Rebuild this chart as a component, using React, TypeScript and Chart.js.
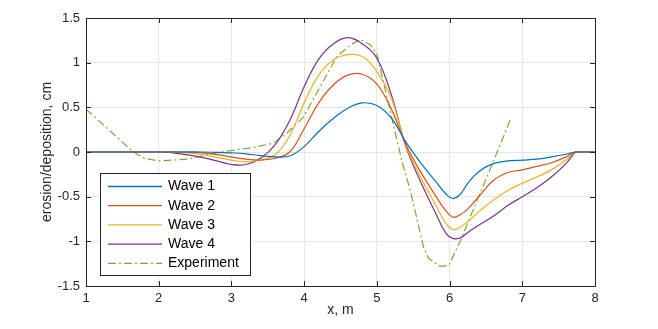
import { useEffect, useRef } from "react";
import { Chart, registerables } from "chart.js";

Chart.register(...registerables);

// ---- data ----
const waveX = [1, 1.5, 2, 2.3, 2.6, 2.8, 3.0, 3.2, 3.4, 3.6, 3.8, 4.0, 4.2, 4.4, 4.6, 4.8, 5.0, 5.2, 5.4, 5.6, 5.8, 5.95, 6.05, 6.15, 6.25, 6.4, 6.6, 6.8, 7.0, 7.2, 7.4, 7.6, 7.73, 7.75, 8];
const wave1 = [0, 0, 0, 0, 0, -0.005, -0.01, -0.02, -0.04, -0.055, -0.045, 0.06, 0.23, 0.375, 0.49, 0.55, 0.52, 0.38, 0.11, -0.12, -0.32, -0.47, -0.52, -0.47, -0.35, -0.22, -0.13, -0.10, -0.09, -0.08, -0.055, -0.025, 0, 0, 0];
const wave2 = [0, 0, 0, 0, -0.01, -0.03, -0.055, -0.08, -0.09, -0.07, 0.0, 0.26, 0.55, 0.75, 0.86, 0.87, 0.76, 0.48, 0.08, -0.22, -0.48, -0.66, -0.73, -0.70, -0.64, -0.50, -0.32, -0.23, -0.20, -0.16, -0.12, -0.055, 0, 0, 0];
const wave3 = [0, 0, 0, -0.005, -0.03, -0.06, -0.09, -0.11, -0.09, -0.03, 0.18, 0.55, 0.86, 1.03, 1.09, 1.07, 0.90, 0.60, 0.07, -0.28, -0.58, -0.80, -0.87, -0.84, -0.78, -0.67, -0.54, -0.43, -0.35, -0.28, -0.20, -0.09, 0, 0, 0];
const wave4 = [0, 0, 0, -0.02, -0.06, -0.10, -0.14, -0.14, -0.07, 0.08, 0.35, 0.73, 1.04, 1.21, 1.28, 1.21, 1.05, 0.64, 0.06, -0.33, -0.67, -0.91, -0.97, -0.96, -0.90, -0.82, -0.72, -0.60, -0.50, -0.40, -0.28, -0.13, 0, 0, 0];
const expX = [1.0, 1.65, 1.8, 2.0, 2.4, 2.85, 3.3, 3.58, 3.76, 3.99, 4.22, 4.45, 4.64, 4.77, 4.91, 5.0, 5.34, 5.46, 5.64, 5.71, 5.87, 5.99, 6.15, 6.61, 6.85];
const expY = [0.48, 0.0, -0.07, -0.10, -0.08, 0.0, 0.05, 0.10, 0.21, 0.39, 0.73, 1.07, 1.20, 1.26, 1.20, 1.10, -0.09, -0.43, -1.06, -1.19, -1.28, -1.27, -0.99, -0.09, 0.39];
const seriesNames = ["Wave 1", "Wave 2", "Wave 3", "Wave 4", "Experiment"];
const seriesColors = ["#0072BD", "#D95319", "#EDB120", "#7E2F8E", "#77AC30"];
const xLabel = "x, m";
const yLabel = "erosion/deposition, cm";

const FONT = '"Liberation Sans", Arial, Helvetica, sans-serif';
const INK = "#262626";
const EXP_DASH = [8, 3, 2, 3];

const framePlugin = {
  id: "matlabFrame",
  afterDatasetsDraw(chart: any) {
    const { ctx, chartArea: a, scales } = chart;
    ctx.save();
    ctx.strokeStyle = INK;
    ctx.lineWidth = 1;
    const tl = 5;
    ctx.beginPath();
    scales.x.ticks.forEach((t: any) => {
      const px = Math.round(scales.x.getPixelForValue(t.value)) + 0.5;
      ctx.moveTo(px, a.bottom);
      ctx.lineTo(px, a.bottom - tl);
      ctx.moveTo(px, a.top);
      ctx.lineTo(px, a.top + tl);
    });
    scales.y.ticks.forEach((t: any) => {
      const py = Math.round(scales.y.getPixelForValue(t.value)) + 0.5;
      ctx.moveTo(a.left, py);
      ctx.lineTo(a.left + tl, py);
      ctx.moveTo(a.right, py);
      ctx.lineTo(a.right - tl, py);
    });
    ctx.stroke();
    ctx.strokeRect(
      Math.round(a.left) + 0.5,
      Math.round(a.top) + 0.5,
      Math.round(a.right - a.left),
      Math.round(a.bottom - a.top)
    );

    // legend box
    const lx = Math.round(a.left) + 14;
    const ly = Math.round(a.bottom) - 113;
    const lw = 150;
    const lh = 102;
    ctx.fillStyle = "#ffffff";
    ctx.fillRect(lx, ly, lw, lh);
    ctx.strokeStyle = INK;
    ctx.lineWidth = 1;
    ctx.strokeRect(lx + 0.5, ly + 0.5, lw, lh);
    ctx.font = `14px ${FONT}`;
    ctx.textBaseline = "middle";
    ctx.textAlign = "left";
    chart.data.datasets.forEach((ds: any, i: number) => {
      const yy = ly + 13.5 + i * 19.2;
      ctx.beginPath();
      ctx.strokeStyle = ds.borderColor;
      ctx.lineWidth = 1.3;
      ctx.setLineDash(ds.borderDash || []);
      ctx.moveTo(lx + 8, yy);
      ctx.lineTo(lx + 62, yy);
      ctx.stroke();
      ctx.setLineDash([]);
      ctx.fillStyle = "#000000";
      ctx.fillText(ds.label, lx + 68, yy);
    });
    ctx.restore();
  },
};

export default function App() {
  const ref = useRef<HTMLCanvasElement | null>(null);
  useEffect(() => {
    if (!ref.current) return;
    const waves = [wave1, wave2, wave3, wave4];
    const datasets: any[] = waves.map((w, i) => ({
      label: seriesNames[i],
      data: waveX.map((x, j) => ({ x, y: w[j] })),
      borderColor: seriesColors[i],
      backgroundColor: seriesColors[i],
      borderWidth: 1.2,
      pointRadius: 0,
      tension: 0.4,
      fill: false,
    }));
    datasets.push({
      label: seriesNames[4],
      data: expX.map((x, j) => ({ x, y: expY[j] })),
      borderColor: seriesColors[4],
      backgroundColor: seriesColors[4],
      borderWidth: 1.2,
      borderDash: EXP_DASH,
      pointRadius: 0,
      tension: 0,
      fill: false,
    });
    const chart = new Chart(ref.current, {
      type: "line",
      data: { datasets },
      plugins: [framePlugin],
      options: {
        animation: false,
        responsive: false,
        maintainAspectRatio: false,
        layout: { padding: { left: 0, right: 63, top: 18, bottom: 0 } },
        plugins: { legend: { display: false }, tooltip: { enabled: false } },
        scales: {
          x: {
            type: "linear",
            min: 1,
            max: 8,
            ticks: {
              stepSize: 1,
              padding: 5,
              color: INK,
              font: { family: FONT, size: 13 },
              callback: (v: any) => String(v),
            },
            grid: { color: "#e6e6e6", drawTicks: false, lineWidth: 1 },
            border: { display: false },
            title: {
              display: true,
              text: xLabel,
              color: INK,
              font: { family: FONT, size: 14 },
              padding: { top: 0, bottom: 10 },
            },
            afterFit: (s: any) => {
              s.height = 43;
            },
          },
          y: {
            type: "linear",
            min: -1.5,
            max: 1.5,
            ticks: {
              stepSize: 0.5,
              padding: 6,
              color: INK,
              font: { family: FONT, size: 13 },
              callback: (v: any) => String(v),
            },
            grid: { color: "#e6e6e6", drawTicks: false, lineWidth: 1 },
            border: { display: false },
            title: {
              display: true,
              text: yLabel,
              color: INK,
              font: { family: FONT, size: 14 },
              padding: { top: 39, bottom: 0 },
            },
            afterFit: (s: any) => {
              s.width = 86;
            },
          },
        },
      },
    });
    return () => chart.destroy();
  }, []);
  return (
    <div style={{ position: "fixed", left: 0, top: 0, width: 658, height: 329, background: "#fff" }}>
      <canvas ref={ref} width={658} height={329} style={{ width: 658, height: 329, display: "block" }} />
    </div>
  );
}
